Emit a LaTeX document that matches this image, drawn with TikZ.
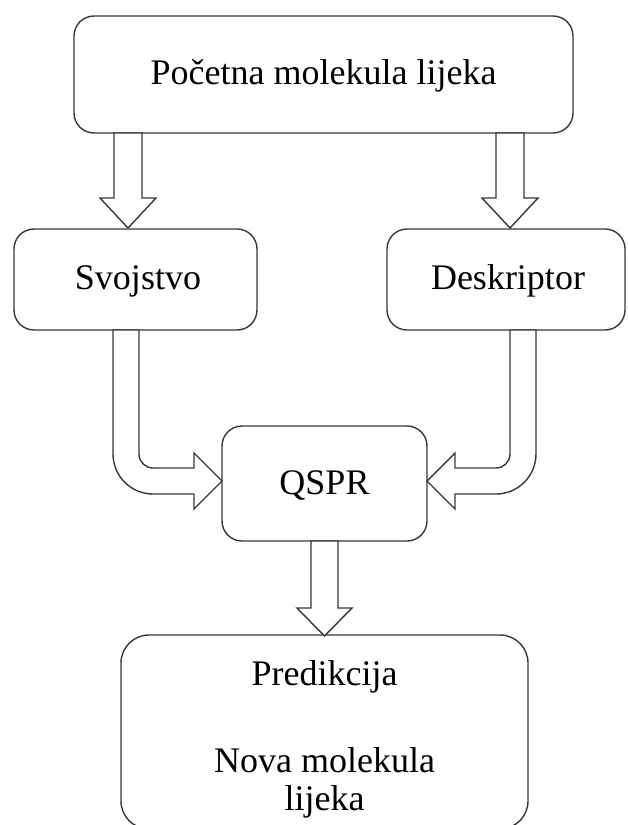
\documentclass[tikz,border=0pt]{standalone}
\usepackage{fontspec}
\setmainfont{Liberation Serif}
\begin{document}
\begin{tikzpicture}[x=0.5pt,y=-0.5pt,
  outline/.style={draw=black!78, line width=0.7pt},
  box/.style={outline, rounded corners=10pt},
  label/.style={font=\fontsize{18}{19}\selectfont, inner sep=0pt},
  bigarrow/.style={outline, fill=white, line join=miter}]
\clip (0,0) rectangle (627,825);
\fill[white] (0,0) rectangle (627,825);

% boxes
\draw[box] (74,16) rectangle (573,133);
\draw[box] (14,229) rectangle (257,330);
\draw[box] (387,229) rectangle (625,330);
\draw[box] (222,426) rectangle (427,541);
\draw[box, rounded corners=14pt] (121,635) rectangle (528,829);

% box texts
\node[label] (start) at (323.5,76) {Početna molekula lijeka};
\node[label] (prop) at (138,281) {Svojstvo};
\node[label] (desc) at (508,281) {Deskriptor};
\node[label] (qspr) at (324.5,485) {QSPR};
\node[label, anchor=base] (pred) at (324.5,685) {Predikcija};
\node[label, anchor=base] (new1) at (324.5,772) {Nova molekula};
\node[label, anchor=base] (new2) at (324.5,810) {lijeka};

% straight block arrows
\draw[bigarrow] (114,133) -- (114,198) -- (100,198) -- (128,228) -- (156,198) -- (142,198) -- (142,133) -- cycle;
\draw[bigarrow] (496,133) -- (496,198) -- (482,198) -- (510,228) -- (538,198) -- (524,198) -- (524,133) -- cycle;
\draw[bigarrow] (311,541) -- (311,608) -- (297,608) -- (324.5,636) -- (352,608) -- (338,608) -- (338,541) -- cycle;

% bent block arrows into QSPR
\draw[bigarrow] (113,330) -- (113,454) arc[start angle=180,end angle=90,radius=40]
  -- (194,494) -- (194,509) -- (222,481) -- (194,453) -- (194,468) -- (153,468)
  arc[start angle=90,end angle=180,radius=14] -- (139,330) -- cycle;
\draw[bigarrow] (536,330) -- (536,454) arc[start angle=0,end angle=90,radius=40]
  -- (455,494) -- (455,509) -- (427,481) -- (455,453) -- (455,468) -- (496,468)
  arc[start angle=90,end angle=0,radius=14] -- (510,330) -- cycle;
\end{tikzpicture}
\end{document}
